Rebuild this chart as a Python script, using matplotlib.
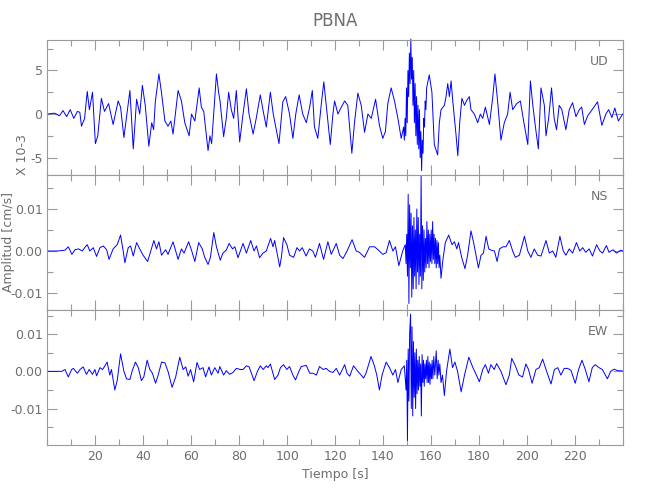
import numpy as np
import matplotlib
matplotlib.use("Agg")
import matplotlib.pyplot as plt
from matplotlib.ticker import MultipleLocator, FormatStrFormatter

# ---------------------------------------------------------
# Data (time [s], amplitude x 1e-3)
# ---------------------------------------------------------
UD_T = [0, 3, 5, 6.5, 8, 9.5, 11, 12.5, 13.5, 14.2,
        15.5, 16.6, 17.5, 18.8, 20.0, 21.0, 22.5, 23.8, 25.5, 27.4,
        29.5, 30.5, 31.9, 34.4, 35.8, 37.2, 38.5, 39.6, 40.8, 42.3,
        43.5, 44.3, 45.0, 46.5, 47.6, 49.0, 50.3, 51.5, 52.4, 54.5,
        55.9, 57.3, 59.1, 60.1, 61.5, 63.3, 64.2, 65.2, 67.0, 67.8,
        68.5, 70.5, 71.4, 72.0, 73.5, 74.6, 75.6, 76.7, 77.7, 78.8,
        80.2, 81.6, 83.0, 84.1, 85.8, 87.1, 88.8, 89.9, 91.3, 93.0,
        94.2, 96.6, 98.2, 99.4, 101.0, 102.4, 103.6, 105.0, 106.5, 108.0,
        109.4, 110.5, 111.4, 112.8, 114.2, 115.3, 116.5, 118.0, 119.1, 119.8,
        121.2, 122.6, 124.0, 125.3, 127.0, 128.1, 129.5, 130.9, 132.3, 133.7,
        135.1, 136.9, 138.5, 139.9, 141.0, 142.0, 143.4, 144.8, 146.2, 147.6,
        148.6, 148.9, 149.2, 149.5, 149.8, 150.1, 150.4, 150.7, 151.0, 151.3,
        151.6, 151.9, 152.2, 152.5, 152.8, 153.1, 153.4, 153.7, 154.0, 154.3,
        154.6, 154.9, 155.2, 155.5, 155.8, 156.1, 156.4, 156.7, 157.0, 157.3,
        157.6, 157.9, 158.2,
        159.3, 160.4, 161.4, 162.8, 163.5, 164.2, 165.6, 166.3, 167.0, 167.7,
        168.4, 169.1, 170.5, 171.2, 172.0, 172.9, 174.0, 174.8, 176.0, 176.7,
        178.1, 179.5, 180.6, 181.6, 182.7, 184.4, 185.8, 186.7, 187.8, 189.2,
        190.6, 192.0, 193.0, 194.1, 195.8, 197.3, 198.6, 200.4, 201.5, 202.5,
        203.6, 204.8, 205.9, 207.3, 208.0, 209.1, 210.3, 211.4, 212.4, 213.5,
        214.6, 216.3, 217.7, 219.1, 220.5, 221.9, 222.9, 224.0, 225.4, 227.5,
        229.5, 231.3, 233.0, 234.1, 235.5, 236.7, 238.2, 240.0]
UD_V = [0.0, 0.1, -0.2, 0.4, -0.3, 0.5, -0.5, 0.3, 0.2, -1.4,
        -0.5, 2.6, 0.5, 2.5, -3.4, -2.5, 1.8, 0.3, 1.2, -1.2,
        1.5, 0.8, -2.7, 2.7, -4.0, 1.7, 0.0, 3.3, 1.0, -3.7,
        -1.0, -1.8, 1.4, 4.6, 2.4, -0.8, -1.4, -0.8, -2.3, 2.7,
        1.5, -1.0, -2.5, 0.0, -0.8, 3.0, 0.8, 0.3, -4.2, -2.5,
        -3.4, 4.6, 2.5, 1.5, -2.6, -0.5, 2.5, 0.5, -0.5, 2.7,
        -3.2, 0.0, 2.9, 0.0, -2.3, -0.5, 2.2, 0.5, -1.5, 2.5,
        0.0, -3.4, 1.4, 2.0, 0.0, -2.8, 0.0, 2.2, 0.0, -1.0,
        0.8, 2.7, -1.5, -2.8, 1.0, 3.7, 0.5, -3.5, 0.0, 1.5,
        0.0, 0.8, 1.5, 1.0, -4.5, -1.0, 2.4, 1.0, -2.1, 0.0,
        -0.5, 1.7, -1.3, -2.8, -2.0, 1.2, 3.0, 1.5, -0.5, -2.8,
        -1.5, -3.0, -0.5, -2.5, 3.0, -1.0, 5.0, 2.0, 7.0, 3.5,
        8.6, 4.0, 6.5, 1.0, 5.0, -1.0, 3.5, -2.5, 2.0, -3.5,
        1.0, -4.0, 0.5, -5.0, -2.0, -6.5, -3.0, -4.5, -0.5, -1.5,
        1.5, 0.5, 3.0,
        4.5, 2.5, -3.5, -4.7, -1.0, 0.5, 1.0, 2.0, 3.5, 2.0,
        3.8, 1.5, -2.5, -4.8, -1.0, 1.8, 1.0, 1.5, 2.0, 0.5,
        0.0, -1.0, 0.0, -0.5, 0.8, -1.2, 2.0, 4.6, 1.5, -3.0,
        -1.0, 0.0, 2.5, 0.5, 1.2, 1.5, -0.7, -3.5, 3.8, 1.0,
        -1.5, -4.0, 3.0, 1.0, -2.5, -0.5, 3.0, -0.5, -1.8, 1.0,
        0.5, -1.8, 0.5, 1.3, -0.3, 0.5, 0.8, -1.2, -0.2, 0.6,
        1.4, -1.3, 0.0, 0.5, -0.4, 0.7, -0.8, 0.0]

NS_T = [0, 4, 6, 7.3, 8.7, 10.2, 11.5, 13.0, 14.5, 15.8,
        16.6, 17.7, 19.1, 20.5, 21.9, 23.3, 24.7, 25.7, 27.4, 29.1,
        30.5, 31.6, 32.3, 33.7, 34.7, 35.8, 37.2, 38.5, 39.9, 41.8,
        43.1, 44.4, 45.5, 46.5, 47.6, 49.3, 50.3, 52.4, 53.5, 54.5,
        55.9, 57.0, 58.9, 60.1, 61.5, 63.1, 64.6, 65.6, 67.0, 68.0,
        69.4, 70.5, 72.1, 73.2, 74.6, 75.8, 77.2, 78.2, 79.5, 81.6,
        83.0, 84.8, 86.2, 87.2, 88.5, 89.9, 91.3, 93.1, 94.1, 94.8,
        96.9, 97.6, 98.5, 99.9, 101.0, 102.7, 104.1, 105.2, 106.3, 107.9,
        109.3, 110.7, 111.8, 113.5, 115.2, 117.0, 118.4, 120.5, 121.9, 123.3,
        125.0, 127.1, 128.8, 130.1, 132.3, 134.4, 136.5, 138.5, 139.9, 141.3,
        142.7, 144.1, 145.2, 146.6, 148.2,
        149.3, 149.6, 149.9, 150.2, 150.5, 150.8, 151.1, 151.4, 151.7, 152.0,
        152.3, 152.6, 152.9, 153.2, 153.5, 153.8, 154.1, 154.4, 154.7, 155.0,
        155.3, 155.6, 155.9, 156.2, 156.5, 156.8, 157.1, 157.4, 157.7, 158.0,
        158.3, 158.6, 158.9, 159.2, 159.5, 159.8, 160.1, 160.4, 160.7, 161.0,
        161.3, 161.6, 161.9, 162.2, 162.5, 162.8, 163.1, 163.4, 163.7, 164.2,
        165.0, 166.0, 167.4, 168.8, 169.8, 170.8, 171.5, 172.8, 174.2,
        175.3, 176.7, 177.8, 178.8, 179.8, 180.9, 181.9, 183.0, 184.1, 185.1,
        186.5, 187.6, 188.6, 190.0, 191.3, 192.7, 194.1, 195.2, 196.9, 199.0,
        200.4, 201.7, 203.1, 204.5, 205.9, 208.0, 209.4, 210.8, 212.1, 213.8,
        215.2, 216.3, 217.7, 219.1, 220.7, 222.1, 223.3, 224.6, 226.0, 227.4,
        229.1, 230.5, 231.6, 233.2, 234.3, 236.0, 237.4, 239.2, 240.0]
NS_V = [0.0, 0.0, 0.1, 0.2, 1.0, -0.8, 0.3, 0.5, 0.0, 1.0,
        1.5, 0.0, 0.8, -1.3, 0.8, 1.2, 0.3, -2.0, 0.5, 1.5,
        3.8, 0.0, -2.8, 0.8, 1.2, -1.2, 2.0, 0.5, -1.0, -2.5,
        0.0, 2.5, 0.5, 2.2, -1.0, 0.3, -0.8, 2.2, 0.0, -2.0,
        0.5, -0.5, 2.2, 0.2, -2.5, 2.0, 0.5, -1.5, -3.2, -1.5,
        4.4, 1.0, -2.2, -0.5, 0.2, 1.8, 0.5, 1.0, -1.6, 1.8,
        -0.5, 2.5, 0.0, 1.2, -1.6, -0.5, 0.0, 3.0, 1.0, 2.5,
        -3.8, -1.5, 3.2, 1.5, -1.0, -1.5, 0.8, 0.0, 0.8, -1.2,
        0.5, 0.0, -1.5, 1.8, -2.0, 2.2, -0.8, 1.8, -1.0, -1.8,
        0.0, 2.7, 0.0, -0.3, -1.5, 1.0, 1.0, 0.0, -0.8, -0.4,
        2.5, 0.0, 1.0, -3.5, 0.0,
        1.5, -3.0, 4.0, -6.0, 13.5, -12.5, 11.0, -4.0, 9.0, -11.0,
        6.0, -9.0, 8.0, -6.0, 5.0, -9.0, 10.0, -5.0, 8.0, -8.0,
        4.0, -6.0, 18.0, -9.0, 6.0, -7.0, 5.0, -5.0, 3.0, -4.0,
        7.0, -3.0, 5.0, -4.0, 4.0, -2.5, 5.0, -3.0, 7.0, -2.0,
        4.0, -3.0, 3.0, -4.0, 2.5, -3.0, 2.0, -4.0, -1.0, -6.5,
        -2.0, 2.0, 3.8, 1.5, 2.2, 0.5, 2.0, -1.5, -4.2,
        -1.0, 4.8, 2.0, -1.0, -4.0, -1.0, -0.5, 3.5, 0.5, 0.2,
        0.0, -2.5, 0.5, 1.0, 1.0, 2.5, 0.0, -1.5, -1.0, 3.5,
        0.0, -1.5, 0.5, -1.0, -1.2, 2.5, -0.5, 0.0, -1.5, 3.5,
        0.0, -1.0, 0.5, -0.5, 2.0, 0.0, 0.8, -0.3, 0.5, -1.2,
        1.5, 0.0, -0.5, 1.3, -0.3, 0.3, -0.5, 0.2, 0.0]

EW_T = [0, 4, 6.0, 7.3, 8.7, 10.1, 10.8, 12.5, 13.6, 14.9,
        16.3, 17.4, 18.8, 19.8, 20.5, 21.9, 23.0, 24.0, 24.9, 26.0,
        26.7, 28.1, 29.1, 30.5, 31.9, 33.0, 34.4, 35.3, 36.7, 37.9,
        39.2, 40.2, 41.6, 42.7, 43.8, 45.1, 46.2, 47.6, 49.0, 50.3,
        52.0, 53.5, 55.2, 56.6, 57.7, 58.7, 59.7, 61.0, 62.4, 63.5,
        64.9, 66.0, 67.4, 68.4, 69.8, 71.2, 71.9, 73.5, 74.6, 76.0,
        77.4, 78.8, 80.5, 81.6, 83.0, 84.1, 85.1, 86.2, 87.6, 88.8,
        90.0, 91.3, 92.0, 93.0, 94.1, 94.8, 96.2, 97.2, 98.5, 99.9,
        101.0, 102.4, 103.5, 104.9, 105.9, 108.0, 109.4, 110.8, 112.2, 113.5,
        115.0, 116.3, 117.7, 119.1, 120.5, 121.9, 124.0, 125.0, 126.1, 127.7,
        129.5, 130.9, 131.9, 132.9, 135.0, 136.4, 137.4, 138.5, 139.6, 141.3,
        142.7, 144.1, 145.2, 146.2, 147.6,
        148.9, 149.3, 149.6, 149.9, 150.2, 150.5, 150.8, 151.1, 151.5, 151.8,
        152.1, 152.4, 152.7, 153.0, 153.3, 153.6, 153.9, 154.2, 154.5, 154.8,
        155.1, 155.4, 155.7, 156.0, 156.3, 156.6, 156.9, 157.2, 157.5, 157.8,
        158.1, 158.4, 158.7, 159.0, 159.3, 159.6, 159.9, 160.2, 160.5, 160.8,
        161.2, 161.6, 162.2, 162.6, 163.0, 163.3, 163.7, 164.2, 164.8, 165.6,
        166.5, 167.9, 169.0, 170.0, 171.1, 172.6, 174.0, 175.8, 177.5, 178.6,
        180.2, 181.6, 182.7, 184.0, 185.0, 186.4, 187.4, 189.2, 191.3, 192.7,
        193.7, 195.2, 196.7, 198.2, 199.6, 200.7, 202.2, 203.8, 205.2, 206.6,
        208.0, 210.1, 211.5, 212.9, 214.2, 215.6, 217.0, 218.4, 220.2, 221.6,
        223.0, 224.4, 225.9, 227.3, 228.5, 230.1, 231.5, 233.6, 235.0, 236.4,
        237.8, 240.0]
EW_V = [0.0, 0.0, 0.0, 0.5, -1.5, 0.5, 0.8, -0.5, 0.5, 1.2,
        -0.8, 0.5, -0.8, 0.5, -1.2, 1.0, 0.5, 1.5, 2.5, -1.0,
        0.5, -5.0, -2.5, 4.7, 0.0, -2.0, -2.2, 0.0, 2.5, 1.0,
        -2.5, -1.5, 3.0, 0.5, -0.5, -3.2, -1.0, 2.5, 2.3, 0.0,
        -4.3, -1.5, 3.8, 0.5, 1.2, -1.3, 0.5, -2.8, 2.4, 0.5,
        1.0, -1.5, 1.2, -1.0, 1.0, -0.5, 1.3, -1.0, 0.2, -0.8,
        -0.3, 0.8, 0.5, 0.5, 1.5, 1.2, -0.5, -2.5, 0.0, 1.5,
        0.5, 1.5, 1.0, 2.0, -0.5, -2.2, -1.0, 1.0, 1.8, 0.5,
        1.3, -1.0, -2.3, 0.0, 1.3, 1.6, -0.5, -0.5, -1.0, 1.3,
        0.5, 0.8, 0.0, -0.3, 0.8, -1.0, 1.8, -0.5, -1.3, 1.5,
        0.0, -1.0, -1.8, -0.5, 4.0, 1.5, -1.0, -5.0, -1.0, 2.5,
        1.0, -1.0, 0.5, -3.0, 0.5,
        1.5, -2.0, -5.0, 3.0, -18.6, 6.0, -8.0, 10.0, 15.4, -10.0,
        12.0, -12.0, 8.0, -7.0, 5.0, -10.0, 6.0, -6.0, 3.0, -5.0,
        4.0, -4.0, 2.0, -12.0, 4.5, -3.0, 3.0, -4.0, 2.0, -2.0,
        3.0, -3.0, 4.0, -3.0, 2.5, -3.5, 2.0, -2.0, 3.0, -2.0,
        4.0, -1.0, 5.5, -2.0, 3.0, -1.0, 2.0, -3.0, -1.0, -6.5,
        0.0, 6.0, 1.0, 2.5, 0.0, -5.5, -1.0, 3.8, 1.0, -0.5,
        -2.8, 0.5, 1.8, -0.5, 1.8, 0.5, 2.1, 0.0, -3.6, -1.0,
        3.5, 1.5, -1.0, -1.5, 2.0, 0.5, -3.2, 0.5, 1.0, 3.3,
        0.5, -3.4, 0.5, 1.0, -1.0, 0.8, 0.8, 0.3, -3.2, 0.5,
        3.0, 0.5, -2.8, 1.0, 1.8, 1.0, 0.5, -2.0, 0.0, 0.6,
        0.2, 0.1]

COMPONENTS = ["UD", "NS", "EW"]
X_TICKS = [20, 40, 60, 80, 100, 120, 140, 160, 180, 200, 220]

# ---------------------------------------------------------
# Style
# ---------------------------------------------------------
GRAY = "#6e6e6e"
SPINE = "#9a9a9a"
TRACE = "#0000ff"
plt.rcParams["font.family"] = ["DejaVu Sans"]
plt.rcParams["font.size"] = 9

fig, axes = plt.subplots(3, 1, figsize=(6.5, 5), dpi=100, sharex=True)
fig.subplots_adjust(left=0.073, right=0.958, top=0.92, bottom=0.11, hspace=0)

traces = [
    (UD_T, UD_V, 1.0, (-7.0, 8.5), 5, 2.5, "%d"),
    (NS_T, NS_V, 1e-3, (-0.01405, 0.0181), 0.01, 0.005, "%.2f"),
    (EW_T, EW_V, 1e-3, (-0.0198, 0.0165), 0.01, 0.005, "%.2f"),
]

for ax, name, (t, v, scale, ylim, major, minor, fmt) in zip(axes, COMPONENTS, traces):
    assert len(t) == len(v)
    ax.plot(t, np.array(v) * scale, color=TRACE, lw=0.7, clip_on=False)
    ax.set_xlim(0, 240)
    ax.set_ylim(*ylim)
    ax.yaxis.set_major_locator(MultipleLocator(major))
    ax.yaxis.set_minor_locator(MultipleLocator(minor))
    ax.yaxis.set_major_formatter(FormatStrFormatter(fmt))
    ax.xaxis.set_minor_locator(MultipleLocator(10))
    ax.set_xticks(X_TICKS)
    ax.tick_params(which="both", direction="in", top=True, right=True,
                   colors=SPINE, labelcolor=GRAY, labelsize=9, width=0.8)
    ax.tick_params(which="major", length=7)
    ax.tick_params(which="minor", length=4)
    for sp in ax.spines.values():
        sp.set_color(SPINE)
        sp.set_linewidth(0.8)
    ax.text(0.975, 0.84, name, transform=ax.transAxes, ha="right",
            va="center", color=GRAY, fontsize=9)

for ax in axes[:2]:
    ax.tick_params(labelbottom=False)

axes[0].set_title("PBNA", color=GRAY, fontsize=12, pad=10)
axes[2].set_xlabel("Tiempo [s]", color=GRAY, fontsize=9)
fig.text(22.7 / 650, 1 - 155 / 500, "X 10-3", rotation=90, ha="center",
         va="center", color=GRAY, fontsize=9)
fig.text(8.5 / 650, 1 - 242 / 500, "Amplitud [cm/s]", rotation=90,
         ha="center", va="center", color=GRAY, fontsize=9)

fig.savefig("out.png", dpi=100)
